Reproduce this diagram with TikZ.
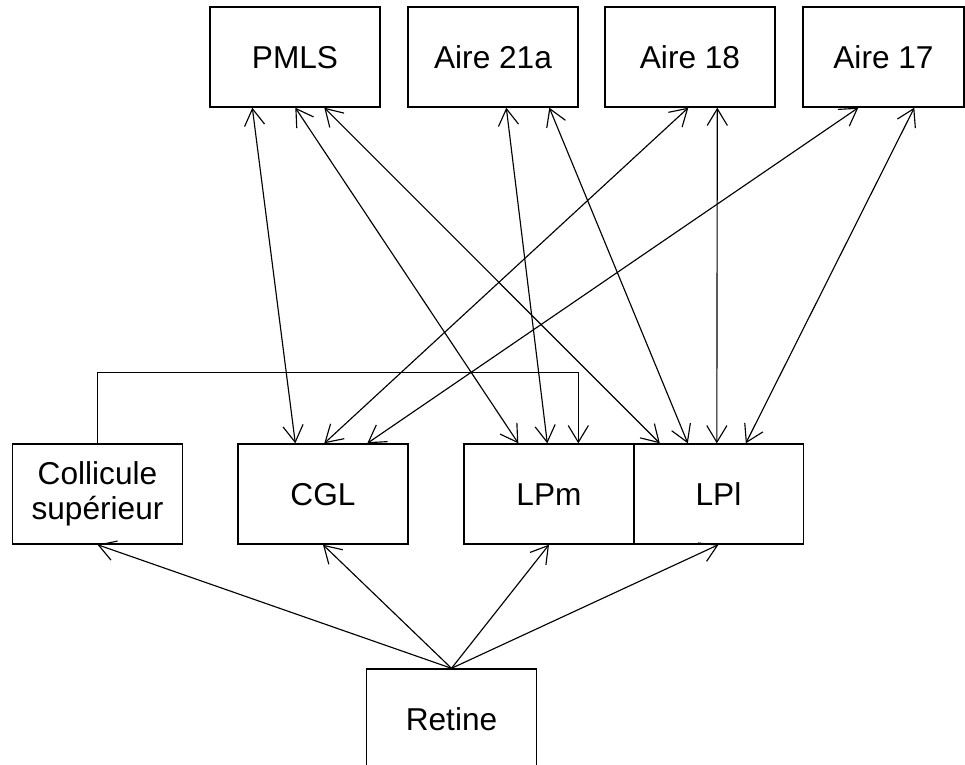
\documentclass[tikz,border=0pt]{standalone}
\usepackage{fontspec}
\setmainfont{Liberation Sans}
\usetikzlibrary{arrows.meta,calc}

\begin{document}
\begin{tikzpicture}[x=0.02cm,y=-0.02cm,
    box/.style={draw,line width=0.8pt,minimum width=3.4cm,minimum height=2cm,
        inner sep=0pt,align=center,font=\fontsize{18}{20}\selectfont},
    onebox/.style={box,text height=12.9pt,text depth=0pt},
    link/.style={line width=0.65pt,-{Straight Barb[length=9.5pt,width=11.5pt]}},
    dlink/.style={line width=0.65pt,{Straight Barb[length=9.5pt,width=11.5pt]}-{Straight Barb[length=9.5pt,width=11.5pt]}}]
    \useasboundingbox (0,0) rectangle (965,765);
    \clip (0,0) rectangle (965,765);

    % Cortical areas
    \node[onebox] (pmls) at (295,57) {PMLS};
    \node[onebox] (a21)  at (493,57) {Aire 21a};
    \node[onebox] (a18)  at (690,57) {Aire 18};
    \node[onebox,minimum width=3.22cm] (a17) at (883.5,57) {Aire 17};

    % Thalamus / midbrain
    \node[box]    (sc)  at (97.5,494)  {Collicule\\supérieur};
    \node[onebox] (cgl) at (323,494)   {CGL};
    \node[onebox] (lpm) at (549,494)   {LPm};
    \node[onebox] (lpl) at (718.5,494) {LPl};

    % Retina, bottom edge falls outside the page
    \node[onebox] (ret) at (451.5,719) {Retine};

    % Connection points on the box edges
    \coordinate (pmls1) at ($(pmls.south west)+(43,0)$);
    \coordinate (pmls2) at ($(pmls.south west)+(86,0)$);
    \coordinate (pmls3) at ($(pmls.south west)+(115,0)$);
    \coordinate (a21a)  at ($(a21.south west)+(99,0)$);
    \coordinate (a21b)  at ($(a21.south west)+(142,0)$);
    \coordinate (a18a)  at ($(a18.south west)+(84,0)$);
    \coordinate (a18b)  at ($(a18.south west)+(113,0)$);
    \coordinate (a17a)  at ($(a17.south west)+(56,0)$);
    \coordinate (a17b)  at ($(a17.south west)+(112,0)$);
    \coordinate (cgl1)  at ($(cgl.north west)+(58,0)$);
    \coordinate (cgl2)  at ($(cgl.north west)+(87,0)$);
    \coordinate (cgl3)  at ($(cgl.north west)+(130,0)$);
    \coordinate (lpm1)  at ($(lpm.north west)+(55,0)$);
    \coordinate (lpm2)  at ($(lpm.north west)+(84,0)$);
    \coordinate (lpm3)  at ($(lpm.north west)+(115,0)$);
    \coordinate (lpl1)  at ($(lpl.north west)+(27,0)$);
    \coordinate (lpl2)  at ($(lpl.north west)+(55,0)$);
    \coordinate (lpl3)  at ($(lpl.north west)+(84,0)$);
    \coordinate (lpl4)  at ($(lpl.north west)+(113,0)$);
    \coordinate (scbend) at ($(lpm3)+(0,-71)$);

    % Reciprocal cortico-thalamic links
    \draw[dlink] (pmls1) -- (cgl1);
    \draw[dlink] (pmls2) -- (lpm1);
    \draw[dlink] (pmls3) -- (lpl1);
    \draw[dlink] (a21a) -- (lpm2);
    \draw[dlink] (a21b) -- (lpl2);
    \draw[dlink] (a18a) -- (cgl2);
    \draw[dlink] (a18b) -- (lpl3);
    \draw[dlink] (a17a) -- (cgl3);
    \draw[dlink] (a17b) -- (lpl4);

    % Colliculus to LPm
    \draw[link] (sc.north) |- (scbend) -- (lpm3);

    % Retinal projections
    \draw[link] (ret.north) -- (sc.south);
    \draw[link] (ret.north) -- (cgl.south);
    \draw[link] (ret.north) -- (lpm.south);
    \draw[link] (ret.north) -- (lpl.south);
\end{tikzpicture}
\end{document}
